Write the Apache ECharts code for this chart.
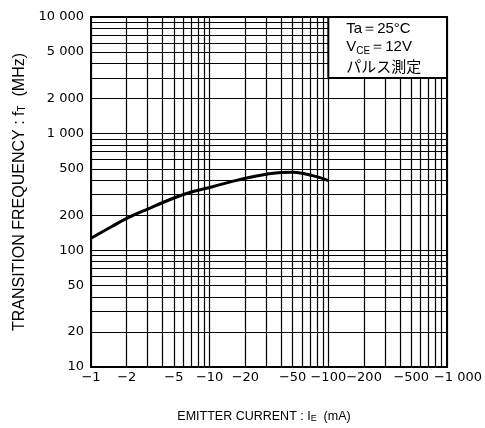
<!DOCTYPE html>
<html>
<head>
<meta charset="utf-8">
<script src="https://cdn.jsdelivr.net/npm/echarts@6/dist/echarts.min.js"></script>
<style>
html,body{margin:0;padding:0;background:#fff;}
#c{width:485px;height:428px;}
</style>
</head>
<body>
<div id="c"></div>
<script>
// Emitter current magnitude (mA; plotted as negative values −1 … −1000)
const currentMag = [1, 1.5, 2, 3, 5, 7, 10, 15, 20, 30, 40, 50, 60, 70, 85, 100];
// Transition frequency fT (MHz)
const fT = [127, 160, 188, 226, 281, 316, 346, 386, 415, 449, 465, 466, 458, 442, 420, 396];

// Tick labels (the last x label, −1 000, is placed as a marker label slightly to the right, as in the original)
const xTickValues = [1, 2, 5, 10, 20, 50, 100, 200, 500];
const xLastTick = 1000;
const yTickValues = [10, 20, 50, 100, 200, 500, 1000, 2000, 5000, 10000];

// Log-paper grid lines
const xGridValues = [1,2,3,4,5,6,7,8,9,10,20,30,40,50,60,70,80,90,100,200,300,400,500,600,700,800,900,1000];
const yGridValues = [10,20,30,40,50,60,70,80,90,100,200,300,400,500,600,700,800,900,1000,2000,3000,4000,5000,6000,7000,8000,9000,10000];

// Condition box extent (x magnitude, fT)
const boxFrom = [100, 3000];
const boxTo = [1000, 10000];

function fmt(v) {
  const s = String(Math.round(v));
  return s.length > 3 ? s.slice(0, s.length - 3) + ' ' + s.slice(-3) : s;
}

const chart = echarts.init(document.getElementById('c'), null, {renderer: 'canvas'});
const tickFont = 'DejaVu Sans';
const nameFont = 'Liberation Sans';

chart.setOption({
  animation: false,
  backgroundColor: '#fff',
  grid: {left: 91, right: 38, top: 17, bottom: 57, show: true, borderColor: '#000', borderWidth: 2, backgroundColor: 'transparent'},
  xAxis: {
    type: 'log', logBase: 10, min: 1, max: 1000,
    axisLine: {show: true, lineStyle: {color: '#000', width: 2}},
    axisTick: {show: false},
    splitLine: {show: false},
    minorSplitLine: {show: false},
    axisLabel: {
      customValues: xTickValues,
      formatter: v => '\u2212' + fmt(v),
      showMinLabel: true, hideOverlap: false,
      color: '#000', fontFamily: tickFont, fontSize: 13, margin: 4
    },
    name: '{a|EMITTER CURRENT : I}{s|E}{a|  (mA)}',
    nameLocation: 'middle', nameGap: 43,
    nameTextStyle: {
      padding: [0, 10, 0, 0],
      rich: {
        a: {fontFamily: nameFont, fontSize: 12.5, color: '#000'},
        s: {fontFamily: nameFont, fontSize: 9, color: '#000', verticalAlign: 'bottom', padding: [4, 0, 0, 0]}
      }
    }
  },
  yAxis: {
    type: 'log', logBase: 10, min: 10, max: 10000,
    axisLine: {show: true, lineStyle: {color: '#000', width: 2}},
    axisTick: {show: false},
    splitLine: {show: false},
    minorSplitLine: {show: false},
    axisLabel: {
      customValues: yTickValues,
      formatter: v => fmt(v),
      showMinLabel: true, showMaxLabel: true, hideOverlap: false,
      color: '#000', fontFamily: tickFont, fontSize: 13, margin: 7
    },
    name: '{a|TRANSITION FREQUENCY : f}{s|T}{a|  (MHz)}',
    nameLocation: 'middle', nameGap: 58, nameRotate: 90,
    nameTextStyle: {
      rich: {
        a: {fontFamily: nameFont, fontSize: 16, color: '#000'},
        s: {fontFamily: nameFont, fontSize: 10, color: '#000', verticalAlign: 'bottom', padding: [5, 0, 0, 0]}
      }
    }
  },
  series: [
    {
      type: 'line',
      name: 'grid',
      data: [],
      silent: true,
      z: 1,
      markLine: {
        silent: true, symbol: 'none', z: 1, animation: false,
        label: {show: false},
        lineStyle: {color: '#000', width: 1.2, type: 'solid'},
        emphasis: {disabled: true},
        data: [
          ...xGridValues.map(v => ({xAxis: v})),
          ...yGridValues.map(v => ({yAxis: v}))
        ]
      },
      markPoint: {
        silent: true, animation: false,
        symbol: 'circle', symbolSize: 0,
        itemStyle: {color: 'transparent'},
        label: {
          show: true, position: 'bottom', distance: 4, offset: [11, 0],
          color: '#000', fontFamily: tickFont, fontSize: 13,
          formatter: () => '\u2212' + fmt(xLastTick)
        },
        data: [{coord: [xLastTick, 10]}]
      }
    },
    {
      type: 'line',
      name: 'box',
      data: [],
      silent: true,
      z: 3,
      markArea: {
        silent: true, z: 8, animation: false,
        itemStyle: {color: '#fff', borderColor: '#000', borderWidth: 2},
        label: {
          show: true, position: 'insideTopLeft', distance: 0,
          padding: [4, 0, 0, 19],
          formatter: '{n|Ta\uFF1D25\u00B0C}\n{n|V}{s|CE}{n|\uFF1D12V}\n{j|\u30D1\u30EB\u30B9\u6E2C\u5B9A}',
          rich: {
            n: {fontFamily: 'Liberation Sans', fontSize: 15, color: '#000', lineHeight: 18},
            s: {fontFamily: 'Liberation Sans', fontSize: 10, color: '#000', lineHeight: 18, verticalAlign: 'bottom'},
            j: {fontFamily: 'Noto Sans CJK JP', fontSize: 15, color: '#000', lineHeight: 20}
          }
        },
        data: [[{coord: boxFrom}, {coord: boxTo}]]
      }
    },
    {
      type: 'line',
      name: 'fT',
      data: currentMag.map((x, i) => [x, fT[i]]),
      smooth: 0.4,
      showSymbol: false,
      symbol: 'none',
      z: 5,
      lineStyle: {color: '#000', width: 3}
    }
  ]
});
</script>
</body>
</html>
